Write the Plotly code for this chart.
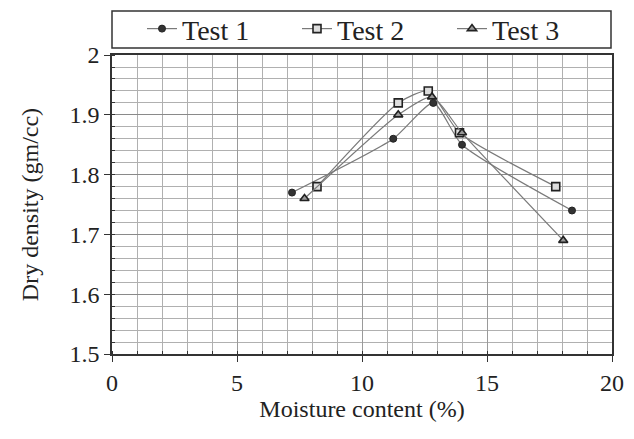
import plotly.graph_objects as go

test1_x = [7.2, 11.25, 12.85, 14.0, 18.4]
test1_y = [1.77, 1.86, 1.92, 1.85, 1.74]
test2_x = [8.2, 11.45, 12.65, 13.9, 17.75]
test2_y = [1.78, 1.92, 1.94, 1.87, 1.78]
test3_x = [7.7, 11.45, 12.8, 14.0, 18.05]
test3_y = [1.76, 1.90, 1.93, 1.87, 1.69]

x_ticks = [0, 5, 10, 15, 20]
y_ticks = [1.5, 1.6, 1.7, 1.8, 1.9, 2.0]
y_tick_labels = ["1.5", "1.6", "1.7", "1.8", "1.9", "2"]

font_family = "Liberation Serif"

fig = go.Figure()

series = [
    ("Test 1", test1_x, test1_y, dict(symbol="circle", size=7, color="#333333",
                                       line=dict(color="#222222", width=1))),
    ("Test 2", test2_x, test2_y, dict(symbol="square", size=8, color="#dddddd",
                                       line=dict(color="#222222", width=1.6))),
    ("Test 3", test3_x, test3_y, dict(symbol="triangle-up", size=8, color="#999999",
                                       line=dict(color="#222222", width=1.6))),
]

for name, xs, ys, mk in series:
    fig.add_trace(go.Scatter(
        x=xs, y=ys, name=name, mode="lines+markers",
        line=dict(color="#7a7a7a", width=1.2, shape="spline", smoothing=0.6),
        marker=mk,
    ))

# Legend frame (paper coords: plot domain ends at 0.869, paper top = 1)
fig.add_shape(type="rect", xref="paper", yref="paper",
              x0=0, x1=0.998, y0=0.8895, y1=0.997,
              line=dict(color="#333333", width=1.5), fillcolor="white")

fig.update_layout(
    width=626, height=431,
    margin=dict(l=104, r=22, t=2, b=85, autoexpand=False),
    paper_bgcolor="white", plot_bgcolor="white",
    font=dict(family=font_family, color="#222222", size=24),
    showlegend=True,
    legend=dict(
        orientation="h", x=0.06, y=0.945, xanchor="left", yanchor="middle",
        font=dict(family=font_family, size=28, color="#222222"),
        bgcolor="rgba(0,0,0,0)", borderwidth=0,
        entrywidth=110, entrywidthmode="pixels",
        tracegroupgap=0,
    ),
    xaxis=dict(
        range=[0, 20], tickvals=x_ticks, ticktext=[str(v) for v in x_ticks],
        showgrid=True, gridcolor="#9a9a9a", gridwidth=1,
        minor=dict(dtick=1, showgrid=True, gridcolor="#b0b0b0", gridwidth=1,
                   ticks="inside", ticklen=3, tickcolor="#333333"),
        showline=True, linecolor="#333333", linewidth=1.5, mirror=True,
        ticks="outside", ticklen=6, tickcolor="#333333",
        zeroline=False,
        title=dict(text="Moisture content (%)", font=dict(size=24), standoff=6),
        tickfont=dict(size=24),
    ),
    yaxis=dict(
        domain=[0, 0.869],
        range=[1.5, 2.0], tickvals=y_ticks, ticktext=y_tick_labels,
        showgrid=True, gridcolor="#8a8a8a", gridwidth=1,
        minor=dict(dtick=0.02, showgrid=True, gridcolor="#b0b0b0", gridwidth=1,
                   ticks="inside", ticklen=3, tickcolor="#333333"),
        showline=True, linecolor="#333333", linewidth=1.5, mirror=True,
        ticks="outside", ticklen=6, tickcolor="#333333",
        zeroline=False,
        title=dict(text="Dry density (gm/cc)", font=dict(size=24), standoff=24),
        tickfont=dict(size=24),
    ),
)

fig.write_html("out.html")
